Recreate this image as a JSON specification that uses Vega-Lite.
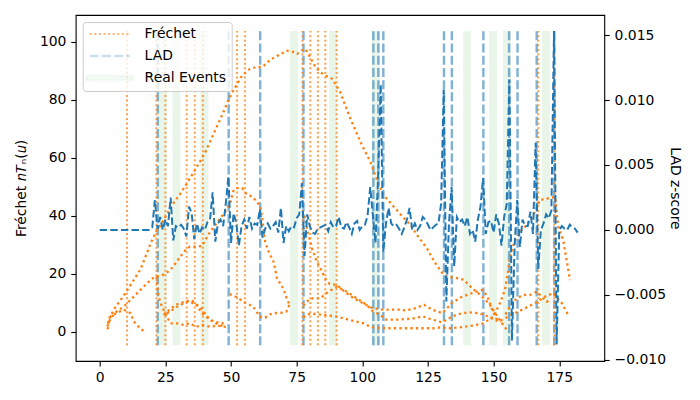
{
  "$schema": "https://vega.github.io/schema/vega-lite/v6.json",
  "width": 528.6,
  "height": 346,
  "autosize": {"type": "none"},
  "padding": {"left": 75.7, "top": 15, "right": 95.7, "bottom": 39},
  "config": {
    "font": "DejaVu Sans",
    "view": {"stroke": "black", "strokeWidth": 1.1},
    "axis": {"grid": false, "domain": false, "tickColor": "black", "tickWidth": 1.1, "tickSize": 4.9, "labelFontSize": 13.9, "labelColor": "black", "labelPadding": 4.9, "titleFontSize": 13.9, "titleFontWeight": "normal", "titleColor": "black", "labelFont": "DejaVu Sans", "titleFont": "DejaVu Sans", "labelFlush": false}
  },
  "datasets": {
    "bands": [
      {"x": 22.4, "x2": 25.5}, {"x": 27.7, "x2": 30.7}, {"x": 38.3, "x2": 41.4}, {"x": 72.5, "x2": 75.6}, {"x": 87.4, "x2": 90.4},
      {"x": 103.6, "x2": 106.7}, {"x": 138.4, "x2": 141.4}, {"x": 148.3, "x2": 151.3}, {"x": 153.6, "x2": 156.6}, {"x": 168.4, "x2": 171.4}
    ],
    "cps": [
      {"x": 22.1, "kind": "LAD"}, {"x": 49.1, "kind": "LAD"}, {"x": 61.1, "kind": "LAD"}, {"x": 77.6, "kind": "LAD"}, {"x": 104.2, "kind": "LAD"},
      {"x": 106.1, "kind": "LAD"}, {"x": 108.0, "kind": "LAD"}, {"x": 131.1, "kind": "LAD"}, {"x": 134.1, "kind": "LAD"}, {"x": 146.1, "kind": "LAD"},
      {"x": 155.9, "kind": "LAD"}, {"x": 159.1, "kind": "LAD"}, {"x": 166.4, "kind": "LAD"}, {"x": 173.1, "kind": "LAD"},
      {"x": 10.4, "kind": "Fréchet"}, {"x": 21.6, "kind": "Fréchet"}, {"x": 25.0, "kind": "Fréchet"}, {"x": 33.1, "kind": "Fréchet"}, {"x": 36.2, "kind": "Fréchet"},
      {"x": 39.3, "kind": "Fréchet"}, {"x": 52.3, "kind": "Fréchet"}, {"x": 55.3, "kind": "Fréchet"}, {"x": 77.2, "kind": "Fréchet"}, {"x": 80.2, "kind": "Fréchet"},
      {"x": 83.1, "kind": "Fréchet"}, {"x": 85.9, "kind": "Fréchet"}, {"x": 90.2, "kind": "Fréchet"}, {"x": 167.0, "kind": "Fréchet"}, {"x": 173.1, "kind": "Fréchet"}
    ],
    "fr": [
      {"s": "A", "x": 3.0, "y": 0.8}, {"s": "A", "x": 3.5, "y": 4.5}, {"s": "A", "x": 6.0, "y": 8.5}, {"s": "A", "x": 9.2, "y": 12.5}, {"s": "A", "x": 12.0, "y": 16.5},
      {"s": "A", "x": 15.5, "y": 21.5}, {"s": "A", "x": 17.5, "y": 26}, {"s": "A", "x": 19.4, "y": 30.5}, {"s": "A", "x": 21.5, "y": 34.5}, {"s": "A", "x": 23.7, "y": 37.5},
      {"s": "A", "x": 27.5, "y": 43.6}, {"s": "A", "x": 30.7, "y": 47.6}, {"s": "A", "x": 33.2, "y": 51.1}, {"s": "A", "x": 37.0, "y": 56.8}, {"s": "A", "x": 40.2, "y": 61.9},
      {"s": "A", "x": 44.0, "y": 69.5}, {"s": "A", "x": 47.0, "y": 75.5}, {"s": "A", "x": 49.2, "y": 80.3}, {"s": "A", "x": 52.0, "y": 85}, {"s": "A", "x": 54.2, "y": 88.3},
      {"s": "A", "x": 57.0, "y": 90.5}, {"s": "A", "x": 59.3, "y": 91.2}, {"s": "A", "x": 62.0, "y": 91.3}, {"s": "A", "x": 65.0, "y": 93.8}, {"s": "A", "x": 68.0, "y": 95.3},
      {"s": "A", "x": 71.3, "y": 96.9}, {"s": "A", "x": 73.5, "y": 96.5}, {"s": "A", "x": 75.2, "y": 95.8}, {"s": "A", "x": 77.0, "y": 97}, {"s": "A", "x": 78.3, "y": 97.5},
      {"s": "A", "x": 80.2, "y": 94.5}, {"s": "A", "x": 82.0, "y": 91.5}, {"s": "A", "x": 84.0, "y": 89.5}, {"s": "A", "x": 86.0, "y": 88.3}, {"s": "A", "x": 88.5, "y": 87.2},
      {"s": "A", "x": 91.6, "y": 82.6}, {"s": "A", "x": 93.5, "y": 78}, {"s": "A", "x": 95.5, "y": 73.4}, {"s": "A", "x": 99.3, "y": 65.4}, {"s": "A", "x": 103.1, "y": 58.5},
      {"s": "A", "x": 105.5, "y": 52.5}, {"s": "A", "x": 108.1, "y": 47.1}, {"s": "A", "x": 112.0, "y": 43.1}, {"s": "A", "x": 115.0, "y": 40}, {"s": "A", "x": 118.3, "y": 36.8},
      {"s": "A", "x": 121.5, "y": 32.5}, {"s": "A", "x": 124.6, "y": 28.8}, {"s": "A", "x": 127.5, "y": 24}, {"s": "A", "x": 131.0, "y": 19.6}, {"s": "A", "x": 133.5, "y": 18.8},
      {"s": "A", "x": 136.0, "y": 18.5}, {"s": "A", "x": 138.6, "y": 17.9}, {"s": "A", "x": 141.8, "y": 15}, {"s": "A", "x": 144.9, "y": 12.7}, {"s": "A", "x": 148.1, "y": 9.9},
      {"s": "A", "x": 150.6, "y": 6.4}, {"s": "A", "x": 153.1, "y": 3}, {"s": "A", "x": 155.0, "y": 0.7},

      {"s": "B", "x": 2.9, "y": 1.8}, {"s": "B", "x": 4.2, "y": 4.7}, {"s": "B", "x": 6.5, "y": 7}, {"s": "B", "x": 9.2, "y": 8.7}, {"s": "B", "x": 13.0, "y": 12.1},
      {"s": "B", "x": 16.8, "y": 15.6}, {"s": "B", "x": 19.5, "y": 18}, {"s": "B", "x": 21.2, "y": 19}, {"s": "B", "x": 23.1, "y": 19.2}, {"s": "B", "x": 25.0, "y": 20},
      {"s": "B", "x": 26.9, "y": 21.3}, {"s": "B", "x": 28.8, "y": 23.5}, {"s": "B", "x": 30.7, "y": 25.9}, {"s": "B", "x": 32.5, "y": 28}, {"s": "B", "x": 34.3, "y": 29.3},
      {"s": "B", "x": 36.5, "y": 29.3}, {"s": "B", "x": 38.9, "y": 29.5}, {"s": "B", "x": 40.2, "y": 31.6}, {"s": "B", "x": 42.1, "y": 34.5}, {"s": "B", "x": 44.0, "y": 36.8},
      {"s": "B", "x": 45.9, "y": 39.1}, {"s": "B", "x": 47.8, "y": 41.4}, {"s": "B", "x": 49.7, "y": 44.3}, {"s": "B", "x": 51.0, "y": 48.9}, {"s": "B", "x": 52.3, "y": 49.5},
      {"s": "B", "x": 54.2, "y": 49.5}, {"s": "B", "x": 56.1, "y": 47.2}, {"s": "B", "x": 58.0, "y": 46.6}, {"s": "B", "x": 59.8, "y": 44.9}, {"s": "B", "x": 61.1, "y": 43.2},
      {"s": "B", "x": 61.7, "y": 40.3}, {"s": "B", "x": 63.0, "y": 31}, {"s": "B", "x": 64.3, "y": 27.6}, {"s": "B", "x": 66.2, "y": 24.1}, {"s": "B", "x": 67.5, "y": 18.5},
      {"s": "B", "x": 69.8, "y": 15}, {"s": "B", "x": 71.2, "y": 11.5}, {"s": "B", "x": 72.3, "y": 9.3},

      {"s": "C", "x": 3.2, "y": 3}, {"s": "C", "x": 4.2, "y": 5.3}, {"s": "C", "x": 6.5, "y": 6.5}, {"s": "C", "x": 9.2, "y": 7.6}, {"s": "C", "x": 11.7, "y": 6.4},
      {"s": "C", "x": 13.0, "y": 3.5}, {"s": "C", "x": 15.0, "y": 1.5}, {"s": "C", "x": 16.8, "y": 0.1},

      {"s": "D", "x": 21.6, "y": 19}, {"s": "D", "x": 22.4, "y": 12.1}, {"s": "D", "x": 23.7, "y": 8.6}, {"s": "D", "x": 25.0, "y": 6.3}, {"s": "D", "x": 26.9, "y": 2.9},
      {"s": "D", "x": 29.4, "y": 2.9}, {"s": "D", "x": 32.0, "y": 2.3}, {"s": "D", "x": 34.0, "y": 2.9}, {"s": "D", "x": 36.8, "y": 1.7}, {"s": "D", "x": 39.0, "y": 2.3},
      {"s": "D", "x": 41.9, "y": 1.7}, {"s": "D", "x": 45.0, "y": 2.0}, {"s": "D", "x": 48.0, "y": 1.7},

      {"s": "E1", "x": 24.3, "y": 5.8}, {"s": "E1", "x": 26.5, "y": 7.5}, {"s": "E1", "x": 28.8, "y": 9.2}, {"s": "E1", "x": 31.0, "y": 10}, {"s": "E1", "x": 33.2, "y": 10.5},
      {"s": "E1", "x": 35.2, "y": 10.9}, {"s": "E1", "x": 37.0, "y": 9}, {"s": "E1", "x": 39.0, "y": 6.3}, {"s": "E1", "x": 41.5, "y": 4.5}, {"s": "E1", "x": 44.0, "y": 2.9},
      {"s": "E1", "x": 47.8, "y": 1.7},

      {"s": "E2", "x": 25.6, "y": 6.3}, {"s": "E2", "x": 29.4, "y": 8.6}, {"s": "E2", "x": 33.2, "y": 10.3}, {"s": "E2", "x": 35.8, "y": 9.8}, {"s": "E2", "x": 38.3, "y": 8.6},
      {"s": "E2", "x": 40.9, "y": 5.2}, {"s": "E2", "x": 43.4, "y": 3.4}, {"s": "E2", "x": 47.2, "y": 2.9},

      {"s": "F", "x": 49.5, "y": 13}, {"s": "F", "x": 52.0, "y": 12}, {"s": "F", "x": 54.7, "y": 10.4}, {"s": "F", "x": 56.5, "y": 9.5}, {"s": "F", "x": 58.4, "y": 8.7},
      {"s": "F", "x": 60.0, "y": 6.5}, {"s": "F", "x": 61.5, "y": 5}, {"s": "F", "x": 63.0, "y": 4.8}, {"s": "F", "x": 64.8, "y": 6.0}, {"s": "F", "x": 66.5, "y": 6.4},
      {"s": "F", "x": 69.0, "y": 6.5}, {"s": "F", "x": 71.1, "y": 7.0}, {"s": "F", "x": 72.3, "y": 9.3},

      {"s": "U", "x": 78.0, "y": 40}, {"s": "U", "x": 78.9, "y": 35.7}, {"s": "U", "x": 80.8, "y": 28.8}, {"s": "U", "x": 82.7, "y": 24.1}, {"s": "U", "x": 84.0, "y": 21.9},
      {"s": "U", "x": 85.9, "y": 18.4}, {"s": "U", "x": 87.5, "y": 16.5}, {"s": "U", "x": 90.3, "y": 16.1}, {"s": "U", "x": 93.0, "y": 14}, {"s": "U", "x": 96.3, "y": 11.8},
      {"s": "U", "x": 98.9, "y": 10.4}, {"s": "U", "x": 101.4, "y": 9.3}, {"s": "U", "x": 103.9, "y": 8.1}, {"s": "U", "x": 107.7, "y": 7.6}, {"s": "U", "x": 111.5, "y": 7.6},
      {"s": "U", "x": 114.0, "y": 7.6}, {"s": "U", "x": 116.6, "y": 7.3}, {"s": "U", "x": 120.3, "y": 8.1}, {"s": "U", "x": 123.5, "y": 9.3}, {"s": "U", "x": 126.6, "y": 7.6},
      {"s": "U", "x": 130.4, "y": 6.4}, {"s": "U", "x": 134.2, "y": 9.9}, {"s": "U", "x": 138.0, "y": 12.1}, {"s": "U", "x": 141.8, "y": 13.3}, {"s": "U", "x": 145.6, "y": 14.4},
      {"s": "U", "x": 147.5, "y": 12.5}, {"s": "U", "x": 148.5, "y": 10}, {"s": "U", "x": 149.5, "y": 7.5}, {"s": "U", "x": 151.0, "y": 4.5}, {"s": "U", "x": 153.0, "y": 3.5},

      {"s": "M", "x": 77.5, "y": 9}, {"s": "M", "x": 80.2, "y": 11.5}, {"s": "M", "x": 84.0, "y": 11.5}, {"s": "M", "x": 87.1, "y": 13.8}, {"s": "M", "x": 90.3, "y": 15.5},
      {"s": "M", "x": 94.1, "y": 13.8}, {"s": "M", "x": 97.9, "y": 11.5}, {"s": "M", "x": 101.7, "y": 9.2}, {"s": "M", "x": 104.0, "y": 7}, {"s": "M", "x": 106.8, "y": 5.8},
      {"s": "M", "x": 109.0, "y": 4.2}, {"s": "M", "x": 114.0, "y": 4.2}, {"s": "M", "x": 119.0, "y": 4.5}, {"s": "M", "x": 123.0, "y": 5.3}, {"s": "M", "x": 126.6, "y": 4.2},
      {"s": "M", "x": 130.4, "y": 3.2}, {"s": "M", "x": 134.2, "y": 5.3}, {"s": "M", "x": 138.0, "y": 6.4}, {"s": "M", "x": 142.0, "y": 6.7}, {"s": "M", "x": 146.0, "y": 6},
      {"s": "M", "x": 149.5, "y": 4.5}, {"s": "M", "x": 152.0, "y": 3.5}, {"s": "M", "x": 154.4, "y": 4.7}, {"s": "M", "x": 158.2, "y": 6.4}, {"s": "M", "x": 162.0, "y": 8.1},
      {"s": "M", "x": 165.8, "y": 9.9}, {"s": "M", "x": 169.6, "y": 12.1}, {"s": "M", "x": 172.7, "y": 13.3}, {"s": "M", "x": 175.9, "y": 9.9}, {"s": "M", "x": 178.4, "y": 5.8},

      {"s": "P", "x": 154.5, "y": 6}, {"s": "P", "x": 156.5, "y": 9}, {"s": "P", "x": 158.1, "y": 10.9}, {"s": "P", "x": 160.1, "y": 12.1}, {"s": "P", "x": 162.0, "y": 12.7},
      {"s": "P", "x": 163.9, "y": 12.7}, {"s": "P", "x": 166.4, "y": 13.8}, {"s": "P", "x": 168.3, "y": 12.1}, {"s": "P", "x": 170.2, "y": 10.3}, {"s": "P", "x": 171.5, "y": 11},

      {"s": "L", "x": 77.5, "y": 5}, {"s": "L", "x": 80.2, "y": 6.3}, {"s": "L", "x": 85.2, "y": 5.8}, {"s": "L", "x": 90.3, "y": 5.2}, {"s": "L", "x": 95.4, "y": 4},
      {"s": "L", "x": 100.4, "y": 2.9}, {"s": "L", "x": 103.0, "y": 1.7}, {"s": "L", "x": 106.8, "y": 1.2}, {"s": "L", "x": 109.3, "y": 1.2}, {"s": "L", "x": 115.7, "y": 1.2},
      {"s": "L", "x": 119.5, "y": 1.2}, {"s": "L", "x": 127.1, "y": 1.2}, {"s": "L", "x": 130.0, "y": 1.5}, {"s": "L", "x": 133.4, "y": 1.2}, {"s": "L", "x": 137.2, "y": 1.5},
      {"s": "L", "x": 142.3, "y": 2.1}, {"s": "L", "x": 146.1, "y": 2.9}, {"s": "L", "x": 149.9, "y": 5.2}, {"s": "L", "x": 152.4, "y": 9.8}, {"s": "L", "x": 154.3, "y": 14.4},
      {"s": "L", "x": 155.6, "y": 21.3}, {"s": "L", "x": 156.2, "y": 25.9}, {"s": "L", "x": 158.1, "y": 31.6}, {"s": "L", "x": 160.1, "y": 34.5}, {"s": "L", "x": 162.6, "y": 36.8},
      {"s": "L", "x": 165.1, "y": 40.2}, {"s": "L", "x": 167.7, "y": 45.4}, {"s": "L", "x": 169.5, "y": 45.8}, {"s": "L", "x": 171.5, "y": 46}, {"s": "L", "x": 173.4, "y": 46.6},
      {"s": "L", "x": 174.6, "y": 36.2}, {"s": "L", "x": 176.5, "y": 31.6}, {"s": "L", "x": 177.8, "y": 24.7}, {"s": "L", "x": 179.1, "y": 17.8}
    ],
    "lad": [
      {"x": 0, "z": 0}, {"x": 1, "z": 0}, {"x": 2, "z": 0}, {"x": 3, "z": 0}, {"x": 4, "z": 0}, {"x": 5, "z": 0}, {"x": 6, "z": 0}, {"x": 7, "z": 0}, {"x": 8, "z": 0}, {"x": 9, "z": 0},
      {"x": 10, "z": 0}, {"x": 11, "z": 0}, {"x": 12, "z": 0}, {"x": 13, "z": 0}, {"x": 14, "z": 0}, {"x": 15, "z": 0}, {"x": 16, "z": 0}, {"x": 17, "z": 0}, {"x": 18, "z": 0}, {"x": 19, "z": 0},
      {"x": 20, "z": 0.0002}, {"x": 21, "z": 0.0023}, {"x": 22, "z": 0.0001}, {"x": 23, "z": 0.0010}, {"x": 24, "z": 0.0000}, {"x": 25, "z": 0.0008}, {"x": 26, "z": 0.0003}, {"x": 27, "z": 0.0025}, {"x": 28, "z": -0.0008}, {"x": 29, "z": 0.0003},
      {"x": 30, "z": 0.0002}, {"x": 31, "z": 0.0004}, {"x": 32, "z": 0.0001}, {"x": 33, "z": -0.0005}, {"x": 34, "z": 0.0018}, {"x": 35, "z": 0.0013}, {"x": 36, "z": -0.0007}, {"x": 37, "z": 0.0005}, {"x": 38, "z": -0.0003}, {"x": 39, "z": 0.0002},
      {"x": 40, "z": 0.0000}, {"x": 41, "z": 0.0006}, {"x": 42, "z": 0.0008}, {"x": 43, "z": 0.0029}, {"x": 44, "z": -0.0009}, {"x": 45, "z": 0.0005}, {"x": 46, "z": 0.0008}, {"x": 47, "z": 0.0003}, {"x": 48, "z": 0.0020}, {"x": 49, "z": 0.0041},
      {"x": 50, "z": -0.0010}, {"x": 51, "z": 0.0013}, {"x": 52, "z": 0.0005}, {"x": 53, "z": -0.0012}, {"x": 54, "z": 0.0003}, {"x": 55, "z": 0.0008}, {"x": 56, "z": 0.0001}, {"x": 57, "z": 0.0010}, {"x": 58, "z": 0.0001}, {"x": 59, "z": 0.0005},
      {"x": 60, "z": 0.0004}, {"x": 61, "z": 0.0016}, {"x": 62, "z": -0.0006}, {"x": 63, "z": 0.0001}, {"x": 64, "z": 0.0005}, {"x": 65, "z": 0.0001}, {"x": 66, "z": 0.0003}, {"x": 67, "z": 0.0006}, {"x": 68, "z": -0.0002}, {"x": 69, "z": 0.0017},
      {"x": 70, "z": -0.0010}, {"x": 71, "z": 0.0003}, {"x": 72, "z": -0.0001}, {"x": 73, "z": 0.0003}, {"x": 74, "z": 0.0002}, {"x": 75, "z": 0.0009}, {"x": 76, "z": 0.0012}, {"x": 77, "z": 0.0036}, {"x": 78, "z": -0.0020}, {"x": 79, "z": 0.0012},
      {"x": 80, "z": 0.0003}, {"x": 81, "z": -0.0002}, {"x": 82, "z": -0.0003}, {"x": 83, "z": 0.0001}, {"x": 84, "z": 0.0002}, {"x": 85, "z": 0.0003}, {"x": 86, "z": 0.0004}, {"x": 87, "z": -0.0001}, {"x": 88, "z": 0.0006}, {"x": 89, "z": 0.0002},
      {"x": 90, "z": 0.0003}, {"x": 91, "z": 0.0010}, {"x": 92, "z": 0.0002}, {"x": 93, "z": 0.0001}, {"x": 94, "z": 0.0006}, {"x": 95, "z": 0.0002}, {"x": 96, "z": -0.0003}, {"x": 97, "z": 0.0005}, {"x": 98, "z": 0.0007}, {"x": 99, "z": 0.0000},
      {"x": 100, "z": 0.0003}, {"x": 101, "z": 0.0004}, {"x": 102, "z": 0.0011}, {"x": 103, "z": 0.0033}, {"x": 104, "z": 0.0012}, {"x": 105, "z": -0.0010}, {"x": 106, "z": 0.0040}, {"x": 107, "z": 0.0112}, {"x": 108, "z": -0.0017}, {"x": 109, "z": 0.0005},
      {"x": 110, "z": 0.0017}, {"x": 111, "z": 0.0005}, {"x": 112, "z": 0.0003}, {"x": 113, "z": 0.0004}, {"x": 114, "z": 0.0001}, {"x": 115, "z": -0.0003}, {"x": 116, "z": 0.0002}, {"x": 117, "z": 0.0008}, {"x": 118, "z": 0.0017}, {"x": 119, "z": 0.0000},
      {"x": 120, "z": 0.0005}, {"x": 121, "z": 0.0000}, {"x": 122, "z": 0.0003}, {"x": 123, "z": 0.0010}, {"x": 124, "z": 0.0008}, {"x": 125, "z": 0.0004}, {"x": 126, "z": 0.0000}, {"x": 127, "z": 0.0002}, {"x": 128, "z": 0.0004}, {"x": 129, "z": 0.0005},
      {"x": 130, "z": 0.0020}, {"x": 131, "z": 0.0108}, {"x": 132, "z": -0.0055}, {"x": 133, "z": 0.0005}, {"x": 134, "z": 0.0033}, {"x": 135, "z": -0.0028}, {"x": 136, "z": 0.0010}, {"x": 137, "z": 0.0006}, {"x": 138, "z": 0.0008}, {"x": 139, "z": 0.0003},
      {"x": 140, "z": 0.0010}, {"x": 141, "z": -0.0003}, {"x": 142, "z": 0.0000}, {"x": 143, "z": -0.0009}, {"x": 144, "z": 0.0008}, {"x": 145, "z": 0.0018}, {"x": 146, "z": 0.0040}, {"x": 147, "z": -0.0003}, {"x": 148, "z": 0.0006}, {"x": 149, "z": 0.0007},
      {"x": 150, "z": -0.0002}, {"x": 151, "z": 0.0012}, {"x": 152, "z": 0.0005}, {"x": 153, "z": -0.0012}, {"x": 154, "z": 0.0010}, {"x": 155, "z": 0.0020}, {"x": 156, "z": 0.0116}, {"x": 157, "z": -0.0085}, {"x": 158, "z": -0.0012}, {"x": 159, "z": 0.0023},
      {"x": 160, "z": -0.0013}, {"x": 161, "z": 0.0008}, {"x": 162, "z": 0.0003}, {"x": 163, "z": 0.0003}, {"x": 164, "z": 0.0014}, {"x": 165, "z": -0.0003}, {"x": 166, "z": 0.0067}, {"x": 167, "z": -0.0030}, {"x": 168, "z": 0.0000}, {"x": 169, "z": 0.0005},
      {"x": 170, "z": 0.0012}, {"x": 171, "z": 0.0009}, {"x": 172, "z": 0.0015}, {"x": 173, "z": 0.0153}, {"x": 174, "z": -0.0088}, {"x": 175, "z": 0.0000}, {"x": 176, "z": 0.0003}, {"x": 177, "z": 0.0001}, {"x": 178, "z": 0.0000}, {"x": 179, "z": 0.0004},
      {"x": 180, "z": 0.0002}, {"x": 181, "z": 0.0001}, {"x": 182, "z": -0.0002}
    ]
  },
  "encoding": {
    "x": {"field": "x", "type": "quantitative", "scale": {"domain": [-9.15, 192.15], "nice": false, "zero": false},
          "axis": {"values": [0, 25, 50, 75, 100, 125, 150, 175], "format": "d", "title": null, "labelFlush": false}}
  },
  "layer": [
    {
      "layer": [
        {
          "data": {"name": "bands"},
          "mark": {"type": "rect", "color": "#2ca02c", "opacity": 0.1},
          "encoding": {
            "x2": {"field": "x2"},
            "y": {"datum": -4.7, "type": "quantitative", "scale": {"domain": [-10.1, 109.2], "nice": false, "zero": false},
                  "axis": {"orient": "left", "values": [0, 20, 40, 60, 80, 100], "title": "Fréchet 𝑛𝑇ₙ(𝑢)", "titlePadding": 11}},
            "y2": {"datum": 103.7}
          }
        },
        {
          "data": {"name": "cps"},
          "mark": {"type": "rule"},
          "encoding": {
            "y": {"datum": -4.7, "type": "quantitative", "scale": {"domain": [-10.1, 109.2], "nice": false, "zero": false},
                  "axis": {"orient": "left", "values": [0, 20, 40, 60, 80, 100], "title": "Fréchet 𝑛𝑇ₙ(𝑢)", "titlePadding": 11}},
            "y2": {"datum": 103.7},
            "color": {"field": "kind", "type": "nominal", "scale": {"domain": ["Fréchet", "LAD", "Real Events"], "range": ["#ff7f0e", "#1f77b4", "#2ca02c"]},
              "legend": {
                "orient": "top-left", "offset": 7, "title": null, "padding": 5,
                "fillColor": "rgba(255,255,255,0.8)", "strokeColor": "#cccccc", "cornerRadius": 3,
                "symbolType": "M-4,0H4", "symbolSize": 100, "symbolOffset": 15, "labelOffset": 28, "symbolStrokeWidth": 3.5,
                "labelFontSize": 13.9, "labelFont": "DejaVu Sans", "labelColor": "black", "rowPadding": 7,
                "encode": {"symbols": {"update": {
                  "shape": {"signal": "datum.value === 'Real Events' ? 'M-4.65,-0.45H4.65V0.45H-4.65Z' : 'M-4,0H4'"},
                  "fill": {"signal": "datum.value === 'Real Events' ? '#2ca02c' : 'transparent'"},
                  "fillOpacity": {"signal": "datum.value === 'Real Events' ? 0.1 : 0"},
                  "strokeOpacity": {"signal": "datum.value === 'Real Events' ? 0.1 : (datum.value === 'LAD' ? 0.4 : 0.75)"},
                  "strokeDash": {"signal": "datum.value === 'Fréchet' ? [3.5, 4] : (datum.value === 'LAD' ? [16, 6] : [1, 0])"}
                }}}
              }},
            "opacity": {"field": "kind", "type": "nominal", "legend": null, "scale": {"domain": ["Fréchet", "LAD", "Real Events"], "range": [0.75, 0.4, 0.1]}},
            "strokeWidth": {"field": "kind", "type": "nominal", "legend": null, "scale": {"domain": ["Fréchet", "LAD", "Real Events"], "range": [2, 2.8, 8]}},
            "strokeDash": {"field": "kind", "type": "nominal", "legend": null, "scale": {"domain": ["Fréchet", "LAD", "Real Events"], "range": [[2, 2.6], [9, 3.2], [1, 0]]}}
          }
        },
        {
          "data": {"name": "fr"},
          "mark": {"type": "line", "color": "#ff7f0e", "strokeWidth": 2.3, "strokeDash": [2.3, 3.2]},
          "encoding": {
            "y": {"field": "y", "type": "quantitative", "scale": {"domain": [-10.1, 109.2], "nice": false, "zero": false},
                  "axis": {"orient": "left", "values": [0, 20, 40, 60, 80, 100], "title": "Fréchet 𝑛𝑇ₙ(𝑢)", "titlePadding": 11}},
            "detail": {"field": "s", "type": "nominal"}
          }
        }
      ]
    },
    {
      "data": {"name": "lad"},
      "mark": {"type": "line", "color": "#1f77b4", "strokeWidth": 2, "strokeDash": [7.4, 3.2]},
      "encoding": {
        "y": {"field": "z", "type": "quantitative", "scale": {"domain": [-0.01008, 0.01654], "nice": false, "zero": false},
              "axis": {"orient": "right", "values": [-0.01, -0.005, 0, 0.005, 0.01, 0.015], "format": ".3f", "title": "LAD z-score", "titlePadding": 2}}
      }
    }
  ],
  "resolve": {"scale": {"y": "independent"}}
}
